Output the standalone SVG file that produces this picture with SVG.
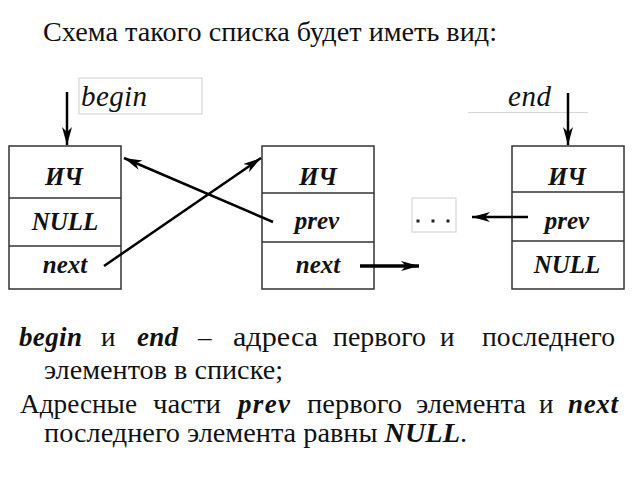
<svg xmlns="http://www.w3.org/2000/svg" width="640" height="480" viewBox="0 0 640 480">
<defs>
<marker id="ah" markerUnits="userSpaceOnUse" markerWidth="20" markerHeight="12" refX="18" refY="5" orient="auto">
<path d="M0,0 L18,5 L0,10 L5,5 Z" fill="#000"/>
</marker>
</defs>
<style>
text{font-family:'Liberation Serif','DejaVu Serif','Times New Roman',serif}
.t{font-size:27px;fill:#111}
.bi{font-weight:bold;font-style:italic;fill:#111}
.cell{font-weight:bold;font-style:italic;font-size:25px;fill:#111;text-anchor:middle}
.lab{font-style:italic;font-size:29px;fill:#111}
.box{fill:#fff;stroke:#333;stroke-width:1.5}
.div{stroke:#333;stroke-width:1.5}
.arr{stroke:#000;stroke-width:2.5;fill:none;marker-end:url(#ah)}
.grey{fill:none;stroke:#d6d6d6;stroke-width:1.2}
</style>
<rect width="640" height="480" fill="#fff"/>
<text class="t" x="43" y="41" textLength="454" lengthAdjust="spacingAndGlyphs">Схема такого списка будет иметь вид:</text>

<g id="begin-label">
<rect class="grey" x="79" y="78" width="123" height="36"/>
<text class="lab" x="81" y="106" textLength="66">begin</text>
</g>
<g id="end-label">
<line class="grey" x1="468" y1="112.5" x2="588" y2="112.5"/>
<text class="lab" x="508" y="106" textLength="43">end</text>
</g>

<g id="node1">
<rect class="box" x="9" y="146" width="112" height="143"/>
<line class="div" x1="9" y1="198" x2="121" y2="198"/>
<line class="div" x1="9" y1="246" x2="121" y2="246"/>
<text class="cell" x="64" y="185">ИЧ</text>
<text class="cell" x="65" y="230">NULL</text>
<text class="cell" x="65" y="273">next</text>
</g>
<g id="node2">
<rect class="box" x="262" y="146" width="112" height="143"/>
<line class="div" x1="262" y1="193" x2="374" y2="193"/>
<line class="div" x1="262" y1="242" x2="374" y2="242"/>
<text class="cell" x="318" y="185">ИЧ</text>
<text class="cell" x="317" y="229">prev</text>
<text class="cell" x="318" y="273">next</text>
</g>
<g id="node3">
<rect class="box" x="512" y="146" width="112" height="143"/>
<line class="div" x1="512" y1="192" x2="624" y2="192"/>
<line class="div" x1="512" y1="241" x2="624" y2="241"/>
<text class="cell" x="567" y="185">ИЧ</text>
<text class="cell" x="567" y="229">prev</text>
<text class="cell" x="567" y="273">NULL</text>
</g>
<g id="ellipsis">
<rect class="grey" x="412" y="198" width="44" height="34"/>
<rect x="416.5" y="219.5" width="3" height="3" fill="#222"/>
<rect x="431.5" y="219.5" width="3" height="3" fill="#222"/>
<rect x="446.5" y="219.5" width="3" height="3" fill="#222"/>
</g>

<g id="connectors">
<line class="arr" x1="67" y1="92" x2="67" y2="145"/>
<line class="arr" x1="568" y1="93" x2="568" y2="145"/>
<line class="arr" x1="273" y1="222" x2="124" y2="158"/>
<line class="arr" x1="104" y1="266" x2="261" y2="158"/>
<line class="arr" x1="360" y1="266" x2="419" y2="266" style="stroke-width:3.5"/>
<line class="arr" x1="528" y1="217" x2="472" y2="217"/>
</g>

<g id="notes">
<text class="bi" x="19" y="346" font-size="27" textLength="63">begin</text>
<text class="t" x="101" y="346">и</text>
<text class="bi" x="137" y="346" font-size="27" textLength="41">end</text>
<text class="t" x="198" y="346">–</text>
<text class="t" x="233" y="346" textLength="85" lengthAdjust="spacingAndGlyphs">адреса</text>
<text class="t" x="333" y="346" textLength="93" lengthAdjust="spacingAndGlyphs">первого</text>
<text class="t" x="440" y="346">и</text>
<text class="t" x="482" y="346" textLength="133" lengthAdjust="spacingAndGlyphs">последнего</text>
<text class="t" x="44" y="379" textLength="239" lengthAdjust="spacingAndGlyphs">элементов в списке;</text>
<text class="t" x="20" y="413" textLength="117" lengthAdjust="spacingAndGlyphs">Адресные</text>
<text class="t" x="153" y="413" textLength="68" lengthAdjust="spacingAndGlyphs">части</text>
<text class="bi" x="238" y="413" font-size="27" textLength="52">prev</text>
<text class="t" x="307" y="413" textLength="95" lengthAdjust="spacingAndGlyphs">первого</text>
<text class="t" x="416" y="413" textLength="110" lengthAdjust="spacingAndGlyphs">элемента</text>
<text class="t" x="539" y="413">и</text>
<text class="bi" x="568" y="413" font-size="27" textLength="50">next</text>
<text class="t" x="44" y="442" textLength="423" lengthAdjust="spacingAndGlyphs">последнего элемента равны <tspan class="bi">NULL</tspan>.</text>
</g>
</svg>
